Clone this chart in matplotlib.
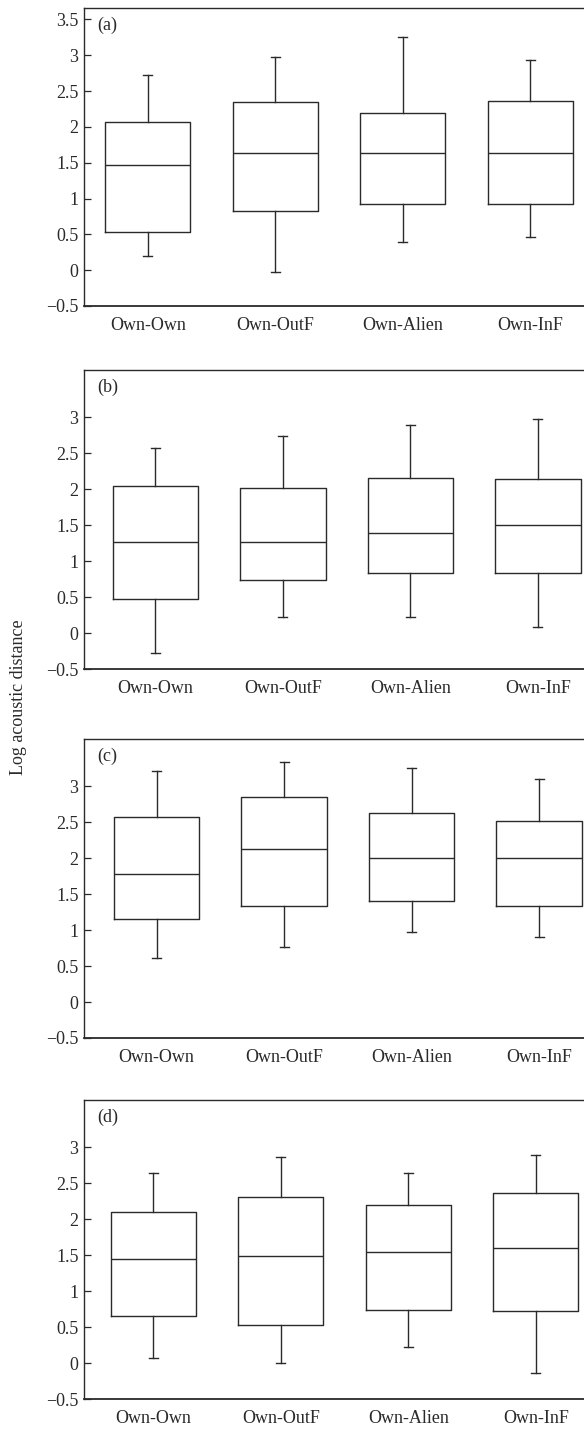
import matplotlib
matplotlib.use("Agg")
import matplotlib.pyplot as plt

plt.rcParams['font.family'] = ['Liberation Serif', 'DejaVu Serif']

categories = ["Own-Own", "Own-OutF", "Own-Alien", "Own-InF"]
panel_labels = ["(a)", "(b)", "(c)", "(d)"]

# panel (a)
whislo_a = [0.20, -0.03, 0.39, 0.47]
q1_a = [0.535, 0.83, 0.92, 0.92]
med_a = [1.47, 1.64, 1.64, 1.64]
q3_a = [2.07, 2.35, 2.20, 2.36]
whishi_a = [2.72, 2.97, 3.25, 2.93]

# panel (b)
whislo_b = [-0.28, 0.23, 0.23, 0.09]
q1_b = [0.48, 0.74, 0.84, 0.83]
med_b = [1.27, 1.27, 1.39, 1.50]
q3_b = [2.05, 2.02, 2.16, 2.15]
whishi_b = [2.58, 2.74, 2.89, 2.98]

# panel (c)
whislo_c = [0.62, 0.76, 0.98, 0.90]
q1_c = [1.16, 1.33, 1.40, 1.33]
med_c = [1.78, 2.13, 2.00, 2.00]
q3_c = [2.58, 2.86, 2.63, 2.52]
whishi_c = [3.22, 3.34, 3.25, 3.10]

# panel (d)
whislo_d = [0.07, 0.00, 0.22, -0.14]
q1_d = [0.65, 0.53, 0.74, 0.73]
med_d = [1.45, 1.49, 1.55, 1.60]
q3_d = [2.10, 2.31, 2.20, 2.37]
whishi_d = [2.65, 2.87, 2.64, 2.90]

ticks_a = [-0.5, 0, 0.5, 1, 1.5, 2, 2.5, 3, 3.5]
ticklabels_a = ["\u22120.5", "0", "0.5", "1", "1.5", "2", "2.5", "3", "3.5"]
ticks_bcd = [-0.5, 0, 0.5, 1, 1.5, 2, 2.5, 3]
ticklabels_bcd = ["\u22120.5", "0", "0.5", "1", "1.5", "2", "2.5", "3"]

ylabel = "Log acoustic distance"

panels = [
    (whislo_a, q1_a, med_a, q3_a, whishi_a, ticks_a, ticklabels_a),
    (whislo_b, q1_b, med_b, q3_b, whishi_b, ticks_bcd, ticklabels_bcd),
    (whislo_c, q1_c, med_c, q3_c, whishi_c, ticks_bcd, ticklabels_bcd),
    (whislo_d, q1_d, med_d, q3_d, whishi_d, ticks_bcd, ticklabels_bcd),
]

W, H = 584, 1431
fig = plt.figure(figsize=(W / 100, H / 100), dpi=100)

# layout in pixels (top, bottom) and x-limits per panel
tops = [8, 370, 739, 1100]
bottoms = [306, 669, 1038, 1399]
xlims = [(0.5, 4.5), (0.44, 4.44), (0.43, 4.43), (0.457, 4.457)]
ax_left, ax_right = 84, 594

ink = "#2a2a2a"
positions = [1, 2, 3, 4]

for i, (lo, q1, med, q3, hi, tks, tkl) in enumerate(panels):
    ax = fig.add_axes([ax_left / W, 1 - bottoms[i] / H,
                       (ax_right - ax_left) / W, (bottoms[i] - tops[i]) / H])
    stats = []
    for j in range(4):
        stats.append(dict(whislo=lo[j], q1=q1[j], med=med[j], q3=q3[j],
                          whishi=hi[j], fliers=[], label=categories[j]))
    lp = dict(color=ink, linewidth=1.0)
    ax.bxp(stats, positions=positions, widths=0.67, capwidths=0.07,
           showfliers=False, boxprops=lp, medianprops=lp,
           whiskerprops=lp, capprops=lp)
    ax.set_xlim(*xlims[i])
    ax.set_ylim(-0.5, 3.66)
    ax.set_yticks(tks)
    ax.set_yticklabels(tkl)
    ax.set_xticks(positions)
    ax.set_xticklabels(categories)
    ax.tick_params(axis='y', direction='in', length=5, width=0.9,
                   color=ink, labelsize=13, labelcolor=ink, pad=4)
    ax.tick_params(axis='x', length=0, labelsize=13, labelcolor=ink, pad=8)
    for s in ax.spines.values():
        s.set_color(ink)
        s.set_linewidth(1.0)
    ax.spines['bottom'].set_linewidth(1.3)
    ax.text(13 / (ax_right - ax_left), 1 - 9 / (bottoms[i] - tops[i]),
            panel_labels[i], transform=ax.transAxes, ha='left', va='top',
            fontsize=13, color=ink)

fig.text(19 / W, 1 - 697 / H, ylabel, rotation=90, ha='center', va='center',
         fontsize=13, color=ink)

fig.savefig("out.png", dpi=100)
